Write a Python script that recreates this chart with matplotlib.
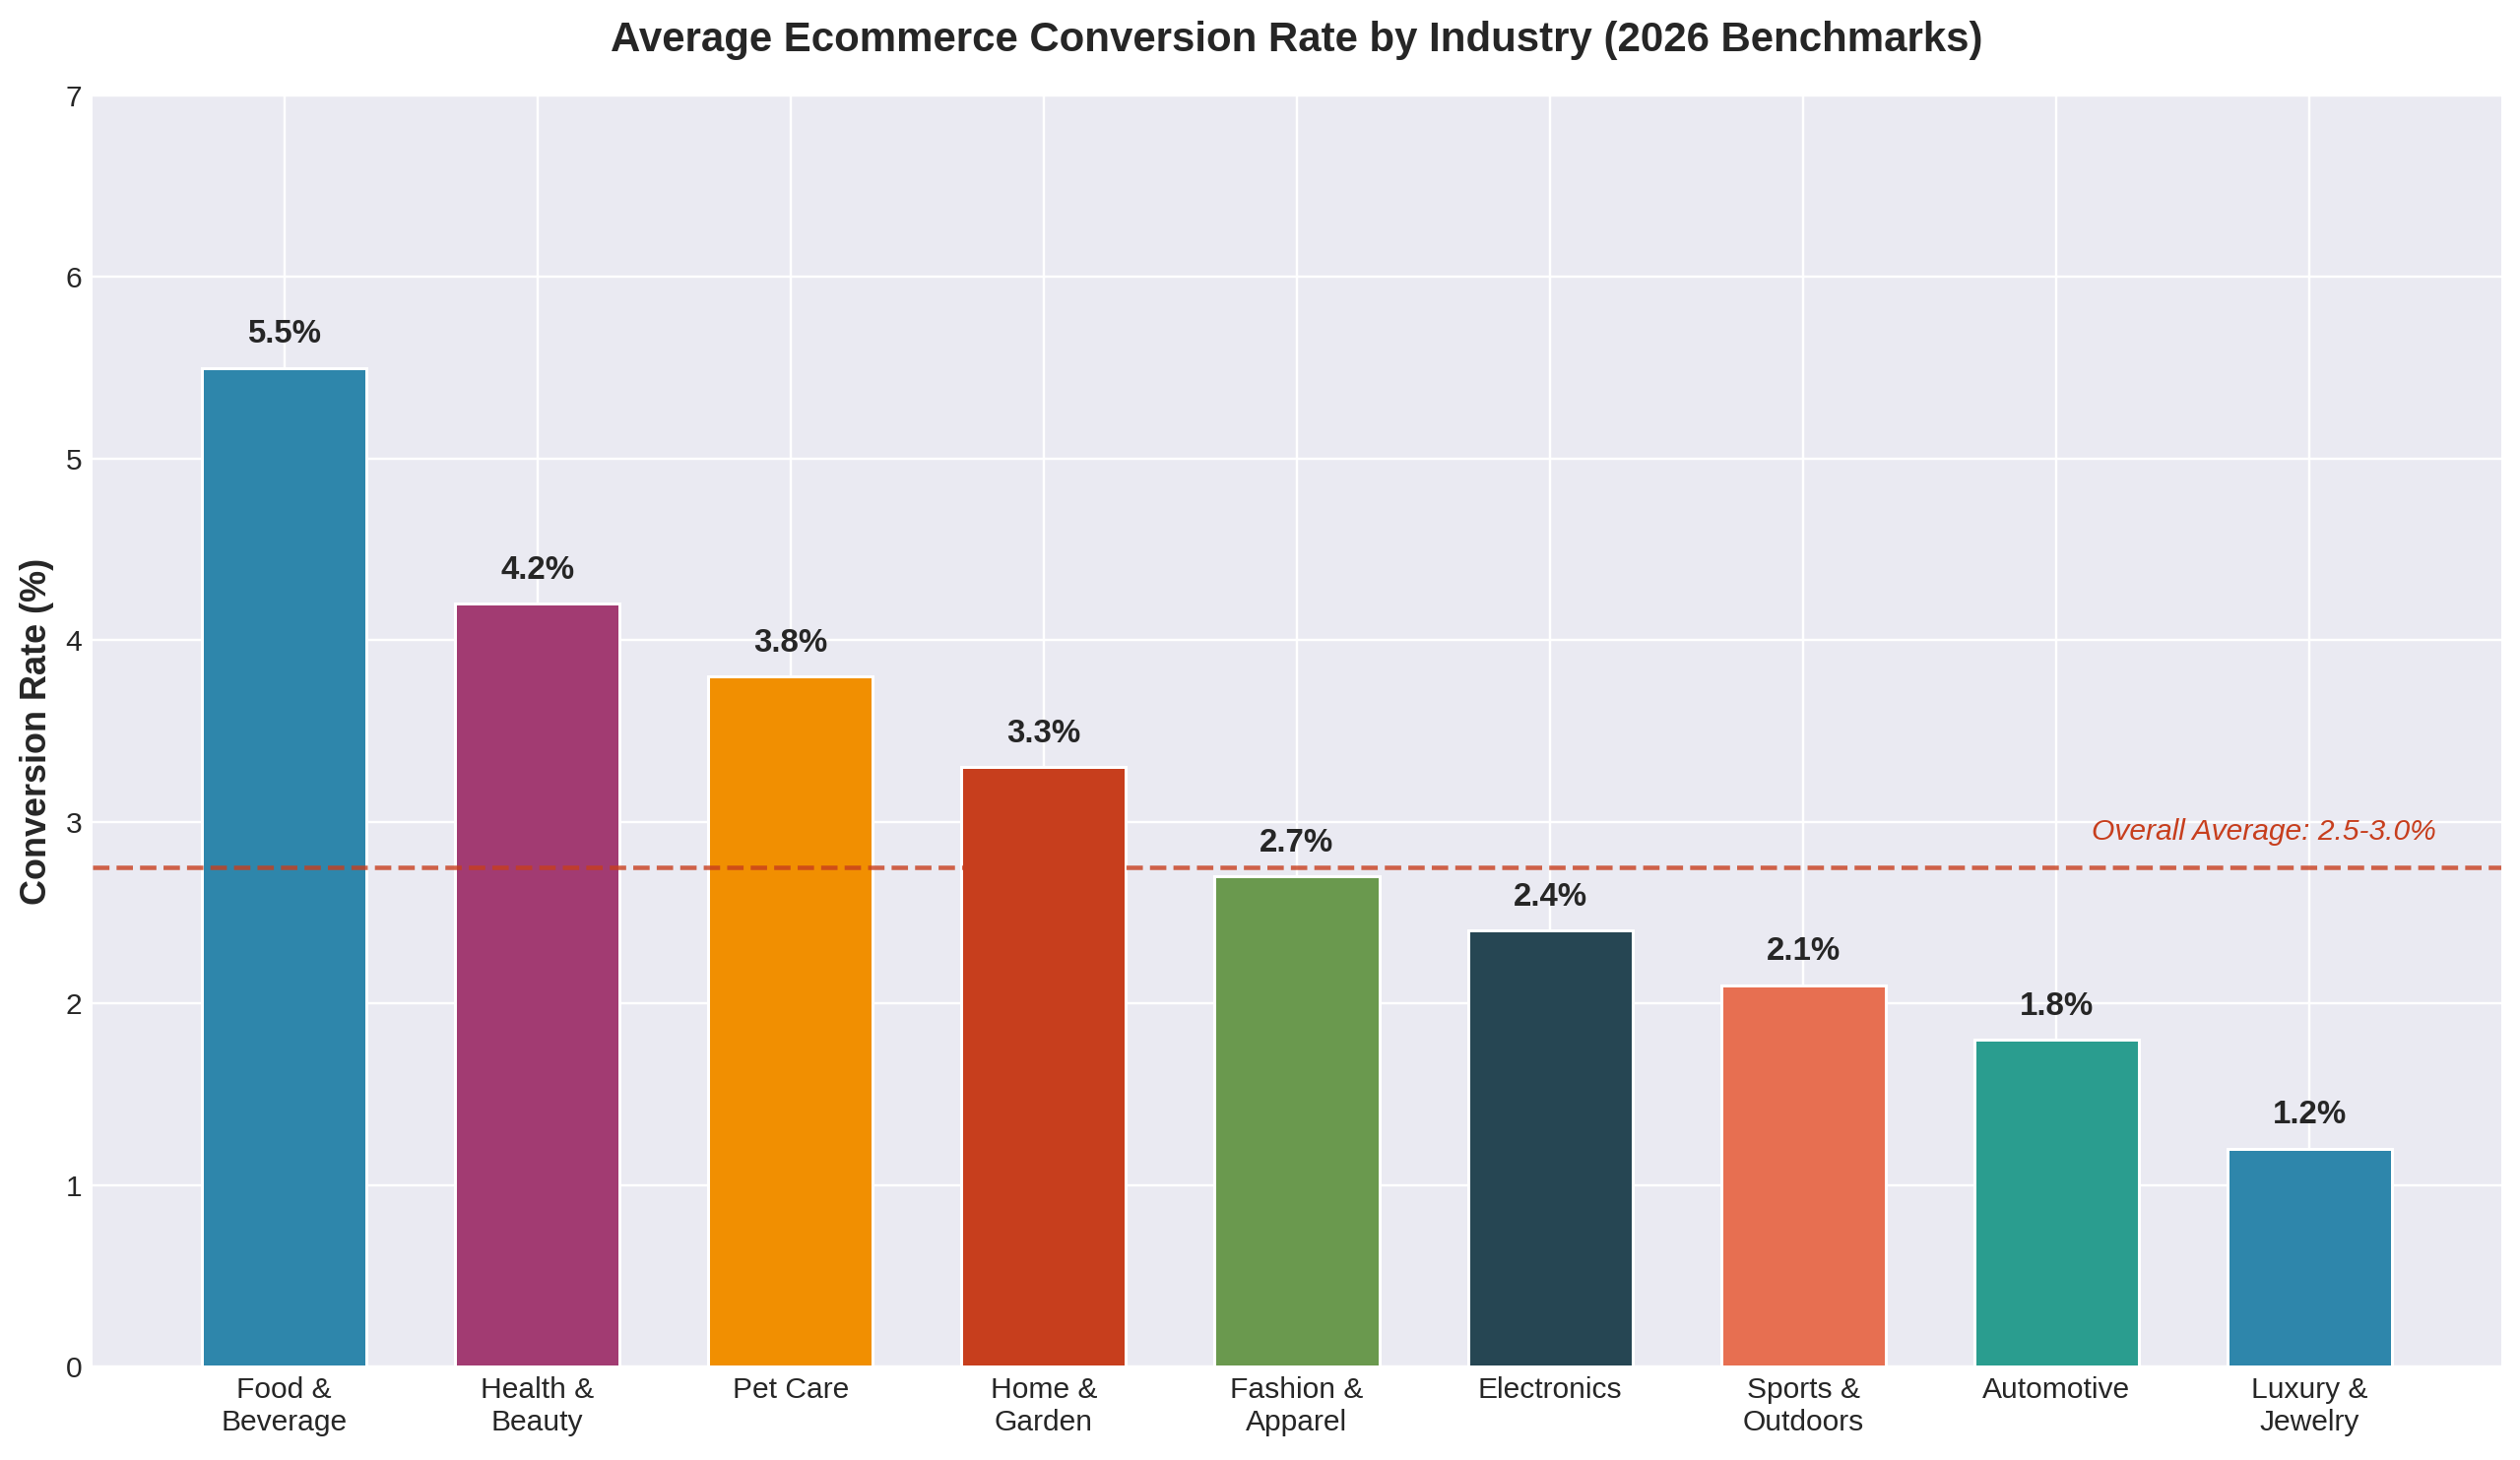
import matplotlib.pyplot as plt

industries = ['Food &\nBeverage', 'Health &\nBeauty', 'Pet Care', 'Home &\nGarden',
              'Fashion &\nApparel', 'Electronics', 'Sports &\nOutdoors', 'Automotive',
              'Luxury &\nJewelry']
conversion_rates = [5.5, 4.2, 3.8, 3.3, 2.7, 2.4, 2.1, 1.8, 1.2]
palette = ['#2E86AB', '#A23B72', '#F18F01', '#C73E1D', '#6A994E',
           '#264653', '#E76F51', '#2A9D8F']
overall_avg = 2.75
avg_label = 'Overall Average: 2.5-3.0%'


def plot_conversion_rates():
    plt.style.use('seaborn-v0_8-darkgrid')
    plt.rcParams['font.family'] = ['Liberation Sans', 'DejaVu Sans']

    dpi = 216
    fig, ax = plt.subplots(figsize=(2559 / dpi, 1483 / dpi), dpi=dpi)
    fig.subplots_adjust(left=0.0367, right=0.9926, top=0.9346, bottom=0.0641)

    x = list(range(len(industries)))
    colors = [palette[i % len(palette)] for i in x]
    bars = ax.bar(x, conversion_rates, width=0.65, color=colors,
                  edgecolor='white', linewidth=1)

    for bar, val in zip(bars, conversion_rates):
        ax.text(bar.get_x() + bar.get_width() / 2, val + 0.1, f'{val}%',
                ha='center', va='bottom', fontsize=11, fontweight='bold')

    ax.axhline(overall_avg, color='#C73E1D', linestyle='--', linewidth=1.5, alpha=0.8)
    ax.text(8.5, overall_avg + 0.12, avg_label, ha='right', va='bottom',
            fontsize=10, style='italic', color='#C73E1D')

    ax.set_xticks(x)
    ax.set_xticklabels(industries, fontsize=10)
    ax.set_ylim(0, 7)
    ax.set_ylabel('Conversion Rate (%)', fontsize=12, fontweight='bold')
    ax.set_title('Average Ecommerce Conversion Rate by Industry (2026 Benchmarks)',
                 fontsize=14, fontweight='bold', pad=15)

    fig.savefig('out.png', dpi=dpi)


if __name__ == '__main__':
    plot_conversion_rates()
